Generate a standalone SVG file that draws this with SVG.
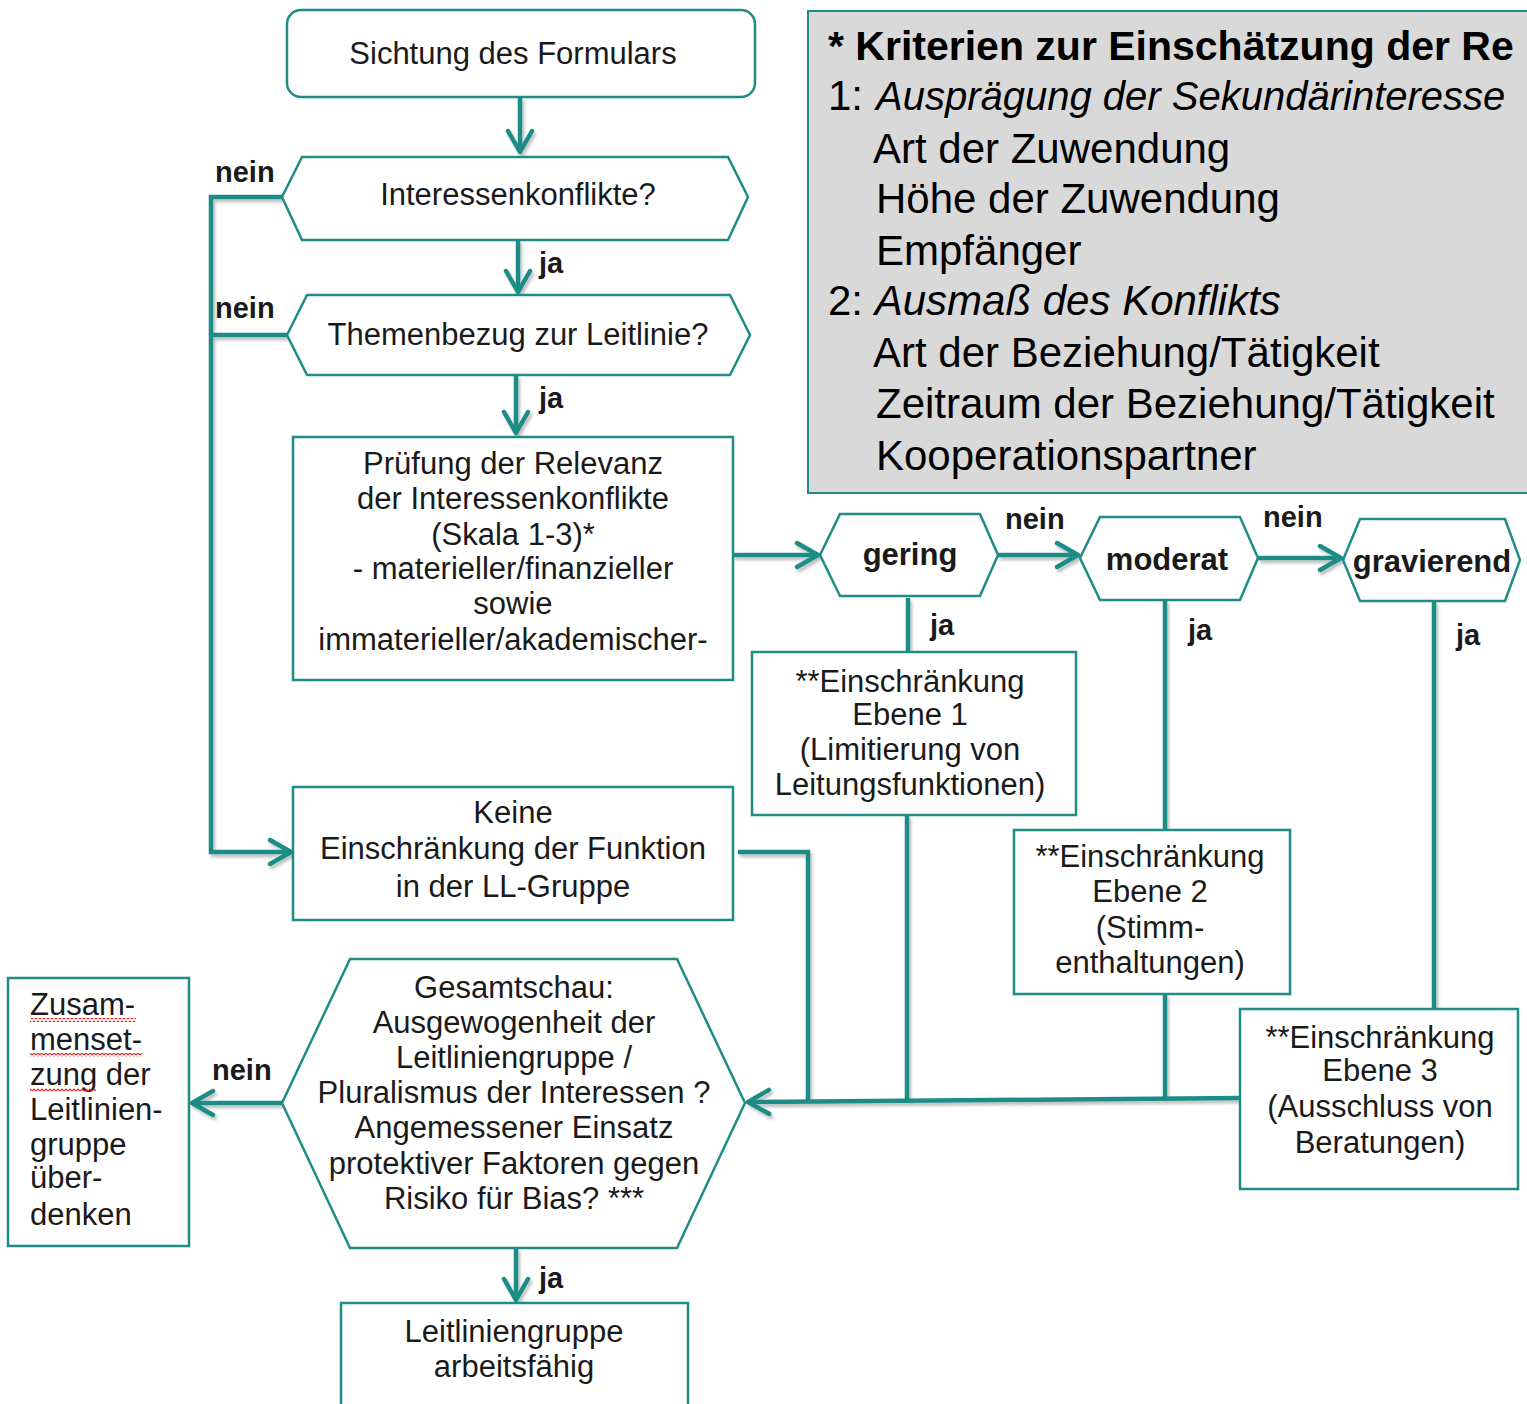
<svg xmlns="http://www.w3.org/2000/svg" width="1527" height="1404" viewBox="0 0 1527 1404">
<style>
.box{fill:#fff;stroke:#1f8c86;stroke-width:2.5}
.crit{fill:#d9d9d9;stroke:#1f8c86;stroke-width:2}
.t{font-family:"Liberation Sans",Arial,sans-serif;font-size:31px;fill:#1a1a1a;text-anchor:middle}
.tl{font-family:"Liberation Sans",Arial,sans-serif;font-size:31px;fill:#1a1a1a}
.b{font-family:"Liberation Sans",Arial,sans-serif;font-size:31px;font-weight:bold;fill:#1a1a1a;text-anchor:middle}
.lbl{font-family:"Liberation Sans",Arial,sans-serif;font-size:29px;font-weight:bold;fill:#1a1a1a}
.c{font-family:"Liberation Sans",Arial,sans-serif;font-size:42px;fill:#000}
.ci{font-family:"Liberation Sans",Arial,sans-serif;font-size:40px;font-style:italic;fill:#000}
.cb{font-family:"Liberation Sans",Arial,sans-serif;font-size:41px;font-weight:bold;fill:#000}
.line{fill:none;stroke:#1f8c86;stroke-width:4.5;stroke-linejoin:miter}
.arr{marker-end:url(#ah)}
</style>
<defs>
<marker id="ah" markerUnits="userSpaceOnUse" markerWidth="30" markerHeight="30" viewBox="0 0 30 30" refX="25" refY="15" orient="auto">
<path d="M4,3 L25,15 L4,27" fill="none" stroke="#1f8c86" stroke-width="4.5" stroke-linecap="round" stroke-linejoin="round"/>
</marker>
<filter id="sh" x="-5%" y="-5%" width="110%" height="110%">
<feDropShadow dx="2" dy="3" stdDeviation="1.5" flood-color="#000" flood-opacity="0.25"/>
</filter>
<pattern id="wavy" width="4" height="4" patternUnits="userSpaceOnUse">
<path d="M0,3 L2,1 L4,3" fill="none" stroke="#e02828" stroke-width="1.2"/>
</pattern>
</defs>

<g id="connectors" filter="url(#sh)">
<path class="line arr" d="M520,97 V152"/>
<path class="line arr" d="M518,240 V292"/>
<path class="line arr" d="M516,375 V433"/>
<path class="line arr" d="M282,197 H211 V852 H291"/>
<path class="line" d="M287,335 H211"/>
<path class="line arr" d="M733,555 H818"/>
<path class="line arr" d="M998,555 H1078"/>
<path class="line arr" d="M1258,558 H1341"/>
<path class="line" d="M908,598 V652"/>
<path class="line" d="M1165,600 V830"/>
<path class="line" d="M1434,601 V1009"/>
<path class="line" d="M907,815 V1100"/>
<path class="line" d="M1165,994 V1099"/>
<path class="line" d="M738,852 H808 V1102"/>
<path class="line arr" d="M1240,1098 L748,1102"/>
<path class="line arr" d="M282,1103 H192"/>
<path class="line arr" d="M516,1248 V1300"/>
</g>

<g id="labels">
<text class="lbl" x="215" y="182">nein</text>
<text class="lbl" x="215" y="318">nein</text>
<text class="lbl" x="539" y="273">ja</text>
<text class="lbl" x="539" y="408">ja</text>
<text class="lbl" x="1005" y="529">nein</text>
<text class="lbl" x="1263" y="527">nein</text>
<text class="lbl" x="930" y="635">ja</text>
<text class="lbl" x="1188" y="640">ja</text>
<text class="lbl" x="1456" y="645">ja</text>
<text class="lbl" x="212" y="1080">nein</text>
<text class="lbl" x="539" y="1288">ja</text>
</g>

<g id="criteria">
<rect class="crit" x="808" y="11" width="760" height="482"/>
<text class="cb" x="828" y="60">* Kriterien zur Einschätzung der Re</text>
<text class="c" x="828" y="110">1: </text>
<text class="ci" x="876" y="110">Ausprägung der Sekundärinteresse</text>
<text class="c" x="873" y="163">Art der Zuwendung</text>
<text class="c" x="876" y="213">Höhe der Zuwendung</text>
<text class="c" x="876" y="265">Empfänger</text>
<text class="c" x="828" y="315">2: <tspan font-style="italic">Ausmaß des Konflikts</tspan></text>
<text class="c" x="873" y="367">Art der Beziehung/Tätigkeit</text>
<text class="c" x="876" y="418">Zeitraum der Beziehung/Tätigkeit</text>
<text class="c" x="876" y="470">Kooperationspartner</text>
</g>

<g id="sichtung">
<rect class="box" x="287" y="10" width="468" height="87" rx="14"/>
<text class="t" x="513" y="64">Sichtung des Formulars</text>
</g>

<g id="interessenkonflikte">
<polygon class="box" points="282,197 302,157 728,157 748,197 728,240 302,240"/>
<text class="t" x="518" y="205">Interessenkonflikte?</text>
</g>

<g id="themenbezug">
<polygon class="box" points="287,335 307,295 730,295 750,335 730,375 307,375"/>
<text class="t" x="518" y="345">Themenbezug zur Leitlinie?</text>
</g>

<g id="pruefung">
<rect class="box" x="293" y="437" width="440" height="243"/>
<text class="t" x="513" y="474">Prüfung der Relevanz</text>
<text class="t" x="513" y="509">der Interessenkonflikte</text>
<text class="t" x="513" y="545">(Skala 1-3)*</text>
<text class="t" x="513" y="579">- materieller/finanzieller</text>
<text class="t" x="513" y="614">sowie</text>
<text class="t" x="513" y="650">immaterieller/akademischer-</text>
</g>

<g id="keine">
<rect class="box" x="293" y="787" width="440" height="133"/>
<text class="t" x="513" y="823">Keine</text>
<text class="t" x="513" y="859">Einschränkung der Funktion</text>
<text class="t" x="513" y="897">in der LL-Gruppe</text>
</g>

<g id="gering">
<polygon class="box" points="820,555 840,514 980,514 998,555 980,596 840,596"/>
<text class="b" x="910" y="565">gering</text>
</g>

<g id="moderat">
<polygon class="box" points="1080,558 1100,517 1240,517 1258,558 1240,600 1100,600"/>
<text class="b" x="1167" y="570">moderat</text>
</g>

<g id="gravierend">
<polygon class="box" points="1343,560 1360,519 1505,519 1520,560 1505,601 1360,601"/>
<text class="b" x="1432" y="572">gravierend</text>
</g>

<g id="ebene1">
<rect class="box" x="752" y="652" width="324" height="163"/>
<text class="t" x="910" y="692">**Einschränkung</text>
<text class="t" x="910" y="725">Ebene 1</text>
<text class="t" x="910" y="760">(Limitierung von</text>
<text class="t" x="910" y="795">Leitungsfunktionen)</text>
</g>

<g id="ebene2">
<rect class="box" x="1014" y="830" width="276" height="164"/>
<text class="t" x="1150" y="867">**Einschränkung</text>
<text class="t" x="1150" y="902">Ebene 2</text>
<text class="t" x="1150" y="938">(Stimm-</text>
<text class="t" x="1150" y="973">enthaltungen)</text>
</g>

<g id="ebene3">
<rect class="box" x="1240" y="1009" width="278" height="180"/>
<text class="t" x="1380" y="1048">**Einschränkung</text>
<text class="t" x="1380" y="1081">Ebene 3</text>
<text class="t" x="1380" y="1117">(Ausschluss von</text>
<text class="t" x="1380" y="1153">Beratungen)</text>
</g>

<g id="gesamtschau">
<polygon class="box" points="282,1103 350,959 677,959 745,1103 677,1248 350,1248"/>
<text class="t" x="514" y="998">Gesamtschau:</text>
<text class="t" x="514" y="1033">Ausgewogenheit der</text>
<text class="t" x="514" y="1068">Leitliniengruppe /</text>
<text class="t" x="514" y="1103">Pluralismus der Interessen ?</text>
<text class="t" x="514" y="1138">Angemessener Einsatz</text>
<text class="t" x="514" y="1174">protektiver Faktoren gegen</text>
<text class="t" x="514" y="1209">Risiko für Bias? ***</text>
</g>

<g id="zusammensetzung">
<rect class="box" x="8" y="978" width="181" height="268"/>
<text class="tl" x="30" y="1015">Zusam-</text>
<text class="tl" x="30" y="1050">menset-</text>
<text class="tl" x="30" y="1085">zung der</text>
<text class="tl" x="30" y="1120">Leitlinien-</text>
<text class="tl" x="30" y="1155">gruppe</text>
<text class="tl" x="30" y="1188">über-</text>
<text class="tl" x="30" y="1225">denken</text>
<rect x="30" y="1018" width="106" height="4" fill="url(#wavy)"/>
<rect x="30" y="1053" width="112" height="4" fill="url(#wavy)"/>
<rect x="30" y="1088" width="66" height="4" fill="url(#wavy)"/>
</g>

<g id="arbeitsfaehig">
<rect class="box" x="341" y="1303" width="347" height="120"/>
<text class="t" x="514" y="1342">Leitliniengruppe</text>
<text class="t" x="514" y="1377">arbeitsfähig</text>
</g>
</svg>
